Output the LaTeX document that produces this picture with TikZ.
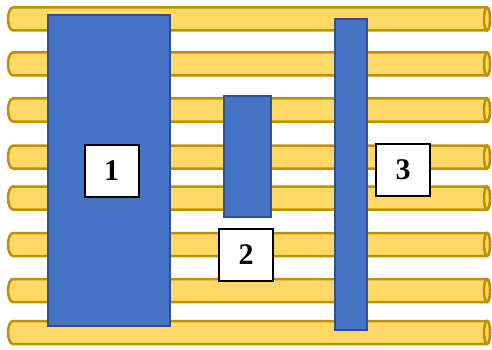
\documentclass[tikz,border=0pt]{standalone}
\usepackage{fontspec}
\setmainfont{Liberation Serif}
\definecolor{tubefill}{HTML}{FFD966}
\definecolor{tubeedge}{HTML}{BF9000}
\definecolor{barfill}{HTML}{4472C4}
\definecolor{baredge}{HTML}{2F528F}
\begin{document}
\begin{tikzpicture}[
  x=1pt,y=-1pt,
  tube/.style={fill=tubefill,draw=tubeedge,line width=2.5pt},
  bar/.style={rectangle,fill=barfill,draw=baredge,line width=1.5pt,inner sep=0pt},
  tag/.style={rectangle,fill=white,draw=black,line width=2pt,
    minimum width=54pt,minimum height=52pt,inner sep=0pt,
    font=\fontsize{30}{30}\selectfont\bfseries}
  ]
  \useasboundingbox (0,0) rectangle (492,350);

  % rods
  \foreach \c in {19,64,110,157,198,244.5,290.5,332.5}{
    \draw[tube] (487,\c-11.5) -- (13,\c-11.5)
      arc[start angle=90,end angle=270,x radius=5pt,y radius=11.5pt]
      -- (487,\c+11.5)
      arc[start angle=-90,end angle=90,x radius=3pt,y radius=11.5pt] -- cycle;
    \draw[tube] (487,\c) ellipse[x radius=3pt,y radius=11.5pt];
  }

  % blocks
  \node[bar,minimum width=122pt,minimum height=311pt] (blockA) at (109,170.5) {};
  \node[bar,minimum width=47pt,minimum height=121pt] (blockB) at (247.5,156.5) {};
  \node[bar,minimum width=32pt,minimum height=311pt] (blockC) at (351,174.5) {};

  % labels
  \node[tag] (tagA) at (111.5,170.5) {1};
  \node[tag] (tagB) at (246,254.5) {2};
  \node[tag] (tagC) at (403,169.5) {3};
\end{tikzpicture}
\end{document}
